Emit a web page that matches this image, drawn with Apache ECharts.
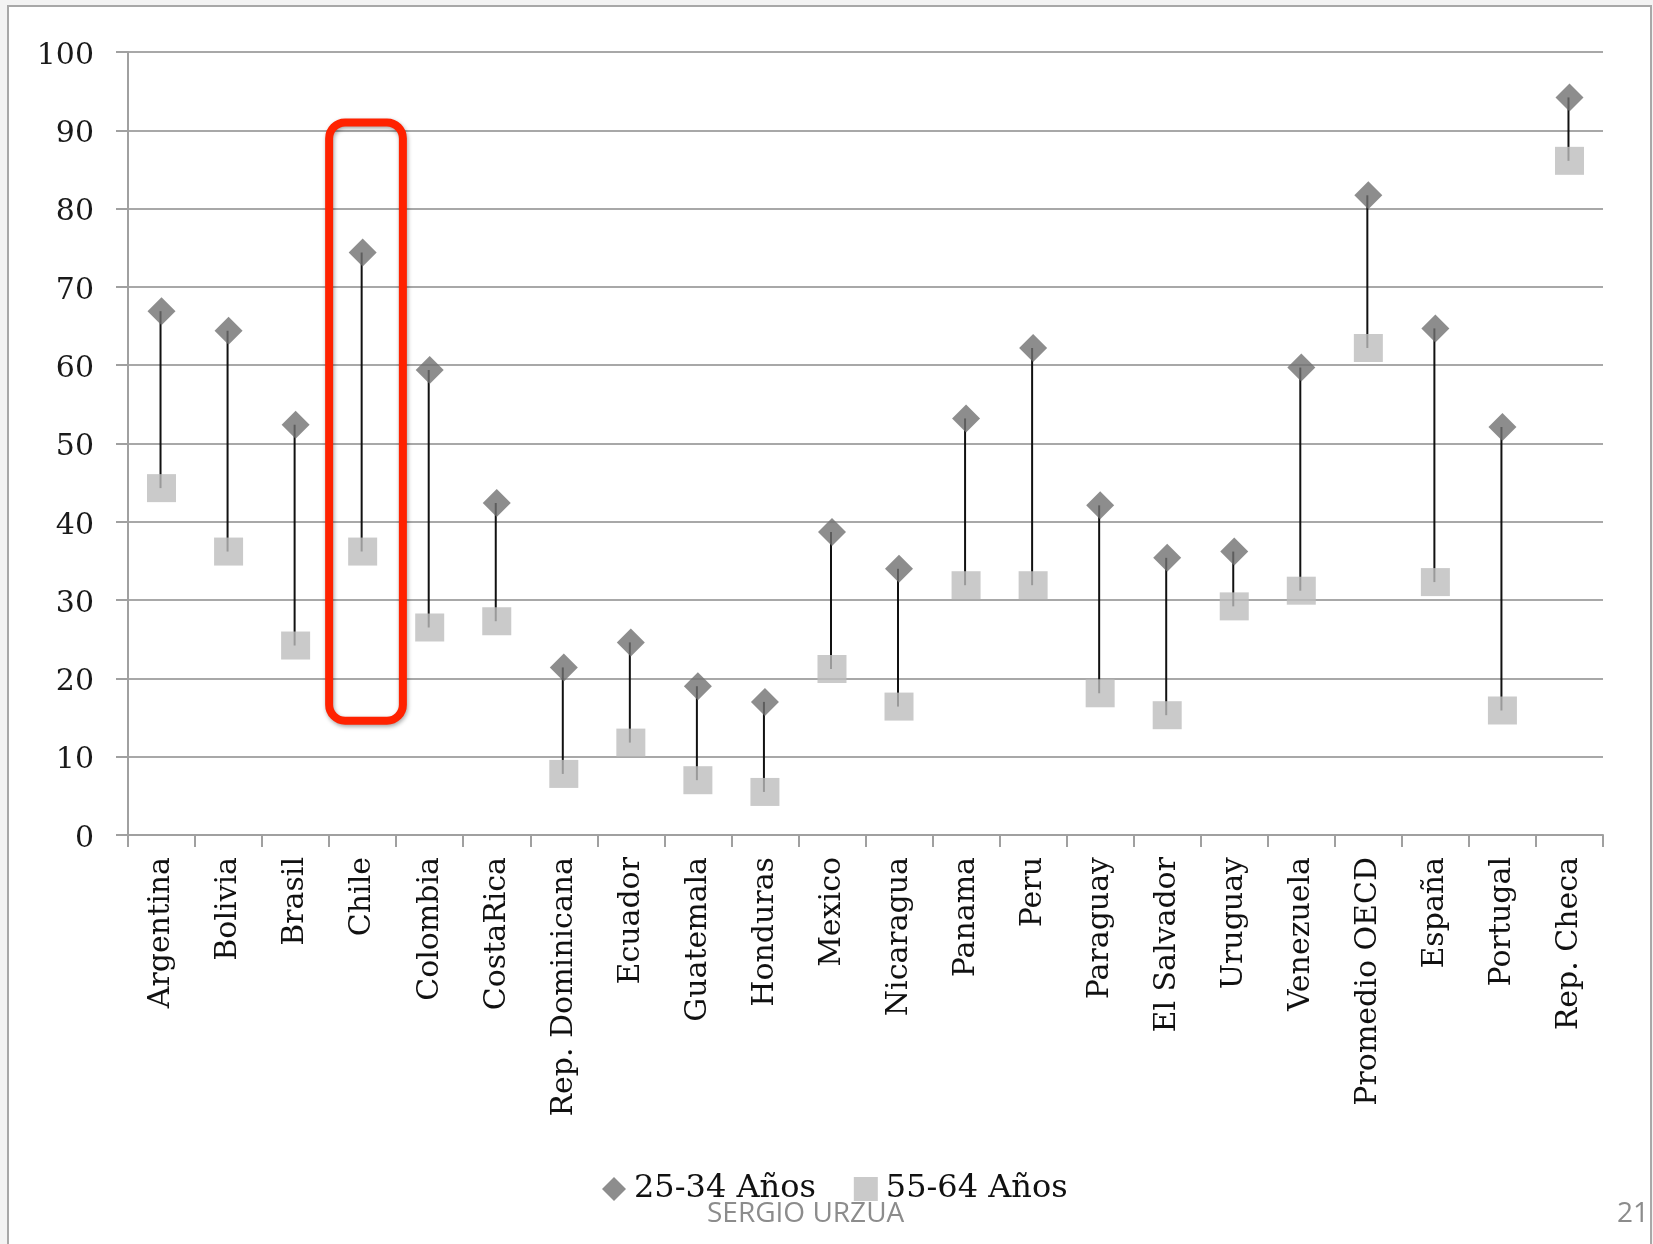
<!DOCTYPE html>
<html>
<head>
<meta charset="utf-8">
<script src="https://cdn.jsdelivr.net/npm/echarts@6/dist/echarts.min.js"></script>
<style>
html,body{margin:0;padding:0;background:#f3f3f3;}
#c{width:1653px;height:1244px;}
</style>
</head>
<body>
<div id="c"></div>
<script>
const categories = ['Argentina','Bolivia','Brasil','Chile','Colombia','CostaRica','Rep. Dominicana','Ecuador','Guatemala','Honduras','Mexico','Nicaragua','Panama','Peru','Paraguay','El Salvador','Uruguay','Venezuela','Promedio OECD','España','Portugal','Rep. Checa'];
const age2534 = [66.9, 64.4, 52.4, 74.4, 59.4, 42.4, 21.4, 24.6, 19.0, 17.0, 38.7, 34.0, 53.2, 62.2, 42.1, 35.4, 36.2, 59.7, 81.7, 64.7, 52.1, 94.2];
const age5564 = [44.3, 36.2, 24.2, 36.2, 26.5, 27.3, 7.8, 11.8, 7.0, 5.5, 21.2, 16.4, 31.9, 31.9, 18.1, 15.3, 29.2, 31.2, 62.2, 32.3, 15.9, 86.1];
const seriesNames = ['25-34 Años', '55-64 Años'];
const yTicks = [0,10,20,30,40,50,60,70,80,90,100];
const highlight = {category: 'Chile', top: 91, bottom: 14.6};

const serif = 'DejaVu Serif';
const chart = echarts.init(document.getElementById('c'), null, {renderer: 'canvas'});
const option = {
  backgroundColor: 'transparent',
  animation: false,
  grid: {left: 128, right: 50, top: 52, bottom: 409, containLabel: false},
  legend: {
    left: 597, top: 1168,
    itemWidth: 24, itemHeight: 24, itemGap: 38,
    textStyle: {fontFamily: serif, fontSize: 32, color: '#111', padding: [6,0,0,3]},
    data: [{name: seriesNames[0], icon: 'diamond'}, {name: seriesNames[1], icon: 'rect'}]
  },
  xAxis: {
    type: 'category',
    data: categories,
    boundaryGap: true,
    axisLine: {lineStyle: {color: '#a0a0a0', width: 2}},
    axisTick: {show: true, length: 12, lineStyle: {color: '#a0a0a0', width: 2}},
    axisLabel: {rotate: 90, margin: 22, fontFamily: serif, fontSize: 30, color: '#111', interval: 0},
    splitLine: {show: false}
  },
  yAxis: {
    type: 'value',
    min: yTicks[0], max: yTicks[yTicks.length-1], interval: 10,
    axisLine: {show: true, lineStyle: {color: '#a0a0a0', width: 2}},
    axisTick: {show: true, length: 12, lineStyle: {color: '#a0a0a0', width: 2}},
    axisLabel: {margin: 34, formatter: '{a|{value}}',
      rich: {a: {fontFamily: serif, fontSize: 30, color: '#1a1a1a', padding: [8,0,0,0]}}},
    splitLine: {show: true, lineStyle: {color: '#a8a8a8', width: 2}}
  },
  series: [
    {
      type: 'custom',
      name: 'range',
      z: 1,
      encode: {x: 0, y: [1, 2]},
      data: categories.map((c, i) => [i, age2534[i], age5564[i]]),
      renderItem: function (params, api) {
        const i = api.value(0);
        const p1 = api.coord([i, api.value(1)]);
        const p2 = api.coord([i, api.value(2)]);
        return {type: 'line', shape: {x1: p1[0] - 1, y1: p1[1], x2: p2[0] - 1, y2: p2[1]},
          style: {stroke: '#111', lineWidth: 2}};
      }
    },
    {
      type: 'scatter', name: seriesNames[0], z: 3,
      symbol: 'diamond', symbolSize: [28, 28],
      itemStyle: {color: '#717171'},
      data: age2534
    },
    {
      type: 'scatter', name: seriesNames[1], z: 3,
      symbol: 'rect', symbolSize: [29, 28],
      itemStyle: {color: '#bdbdbd'},
      data: age5564
    }
  ],
  graphic: []
};
chart.setOption(option);

const idx = categories.indexOf(highlight.category);
const pTop = chart.convertToPixel({gridIndex: 0}, [idx, highlight.top]);
const pBot = chart.convertToPixel({gridIndex: 0}, [idx, highlight.bottom]);
const pNext = chart.convertToPixel({gridIndex: 0}, [idx + 1, highlight.top]);
const band = pNext[0] - pTop[0];
const x0 = pTop[0] - 0.5 * band, x1 = pTop[0] + 0.6 * band;

chart.setOption({
  graphic: [
    {type: 'rect', z: -10, silent: true,
      shape: {x: 8, y: 6, width: 1643, height: 1260},
      style: {fill: '#ffffff', stroke: '#a8a8a8', lineWidth: 2}},
    {type: 'rect', z: 100, silent: true,
      shape: {x: x0, y: pTop[1], width: x1 - x0, height: pBot[1] - pTop[1], r: 16},
      style: {fill: 'none', stroke: '#ff2200', lineWidth: 8,
        shadowBlur: 4, shadowColor: 'rgba(0,0,0,0.35)', shadowOffsetX: 1, shadowOffsetY: 2}},
    {type: 'text', z: 100, silent: true, left: 707, top: 1200,
      style: {text: 'SERGIO URZUA', font: '28px "Open Sans"', fill: '#8c8c8c'}},
    {type: 'text', z: 100, silent: true, right: 4, top: 1200,
      style: {text: '21', font: '28px "Open Sans"', fill: '#8c8c8c', textAlign: 'right'}}
  ]
});
</script>
</body>
</html>
